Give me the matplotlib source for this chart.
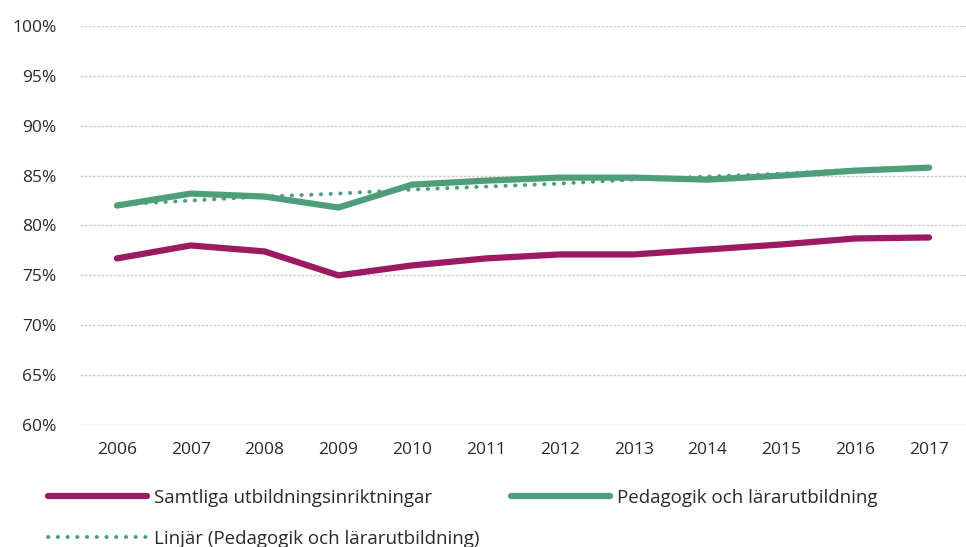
import numpy as np
import matplotlib.pyplot as plt
from matplotlib.ticker import FuncFormatter

years = ['2006', '2007', '2008', '2009', '2010', '2011',
         '2012', '2013', '2014', '2015', '2016', '2017']
samtliga = [76.7, 78.0, 77.4, 75.0, 76.0, 76.7, 77.1, 77.1, 77.6, 78.1, 78.7, 78.8]
pedagogik = [82.0, 83.2, 82.9, 81.8, 84.1, 84.5, 84.8, 84.8, 84.6, 85.0, 85.5, 85.8]
linjar = [82.1, 82.5, 82.9, 83.2, 83.6, 83.9, 84.2, 84.6, 84.9, 85.2, 85.6, 85.9]

purple = '#9C1A62'
green = '#4E9E7B'

plt.rcParams['font.family'] = ['Open Sans', 'DejaVu Sans']

fig = plt.figure(figsize=(9.66, 5.47), dpi=100)
ax = fig.add_axes([80 / 966, 1 - 425 / 547, 886 / 966, 399 / 547])

x = np.arange(len(years))
l1, = ax.plot(x, samtliga, color=purple, lw=4.5, solid_capstyle='round',
              solid_joinstyle='round', label='Samtliga utbildningsinriktningar', zorder=3)
l3, = ax.plot(x, linjar, color=green, lw=2.8, linestyle=(0, (0.1, 2.4)),
              dash_capstyle='round', label='Linjär (Pedagogik och lärarutbildning)', zorder=3)
l2, = ax.plot(x, pedagogik, color=green, lw=4.5, solid_capstyle='round',
              solid_joinstyle='round', label='Pedagogik och lärarutbildning', zorder=4)

ax.set_xlim(-0.5, len(years) - 0.5)
ax.set_ylim(60, 100)
ax.set_yticks(np.arange(60, 101, 5))
ax.yaxis.set_major_formatter(FuncFormatter(lambda v, p: f'{v:.0f}%'))
ax.set_xticks(x)
ax.set_xticklabels(years)
ax.grid(axis='y', color='#d0d0d0', lw=1.0, linestyle=(0, (2, 1)))
ax.set_axisbelow(True)
for s in ax.spines.values():
    s.set_visible(False)
ax.tick_params(axis='both', length=0, labelsize=12.5, colors='#2a2a2a')
ax.tick_params(axis='y', pad=17)
ax.tick_params(axis='x', pad=12)

common = dict(frameon=False, fontsize=13.5, handlelength=5.3, handletextpad=0.35,
              borderpad=0, borderaxespad=0, labelcolor='#2a2a2a')
fig.legend(handles=[l1], loc='center left', bbox_to_anchor=(48 / 966, 1 - 498 / 547), **common)
fig.legend(handles=[l2], loc='center left', bbox_to_anchor=(511 / 966, 1 - 498 / 547), **common)
fig.legend(handles=[l3], loc='center left', bbox_to_anchor=(48 / 966, 1 - 539 / 547), **common)

fig.savefig('out.png', dpi=100)
